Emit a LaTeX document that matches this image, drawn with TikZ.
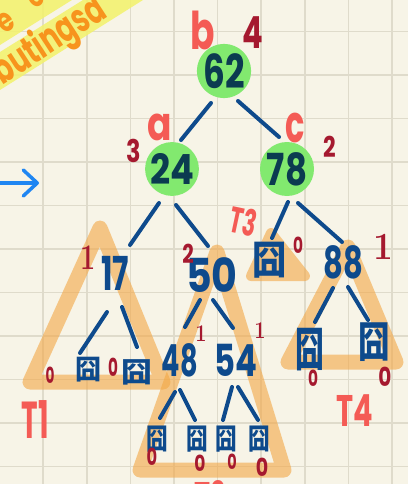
\documentclass[tikz,border=0pt]{standalone}
\usepackage{fontspec}
\newfontfamily\hand{Poppins}
\newfontfamily\cjk{Noto Sans CJK SC}
\usetikzlibrary{arrows.meta}
\definecolor{paper}{HTML}{F7F4E7}
\definecolor{gridc}{HTML}{DFDBCB}
\definecolor{hl}{HTML}{F3F26A}
\definecolor{orangeink}{HTML}{F7941D}
\definecolor{tri}{HTML}{F3A744}
\definecolor{nodegreen}{HTML}{82E96F}
\definecolor{ink}{HTML}{0E4A8C}
\definecolor{darkink}{HTML}{0B3B50}
\definecolor{salmon}{HTML}{F45B55}
\definecolor{wine}{HTML}{A5192F}
\definecolor{arrowblue}{HTML}{1F86F2}
\newcommand{\hw}[3]{\scalebox{#1}[1.3]{\hand\bfseries\fontsize{#2}{#2}\selectfont #3}}
\newcommand{\lmn}[3]{\scalebox{#1}[1.2]{\bfseries\fontsize{#2}{#2}\selectfont #3}}
\newcommand{\jiong}[3]{\scalebox{#1}[#2]{\cjk\bfseries\fontsize{#3}{#3}\selectfont 囧}}
\tikzset{
  circ/.style={circle, fill=nodegreen, inner sep=0pt, text=darkink},
  val/.style={inner sep=0pt, text=ink},
  leafnode/.style={inner sep=0pt, text=ink},
  edge/.style={draw=ink, line width=4pt, line cap=round},
  lbl/.style={inner sep=0pt, text=salmon},
  ht/.style={inner sep=0pt, text=wine},
  subtree/.style={draw=tri, line width=15pt, line join=round},
  gridline/.style={draw=gridc, line width=1.6pt},
}
\begin{document}
\begin{tikzpicture}[x=1pt,y=-1pt]
\useasboundingbox (0,0) rectangle (408,484);
\clip (0,0) rectangle (408,484);
\fill[paper] (0,0) rectangle (408,484);
% grid
\foreach \k in {1,...,9} {\draw[gridline] ({43.6*\k-0.5},0) -- ({43.6*\k-0.5},484);}
\foreach \k in {0,...,10} {\draw[gridline] (0,{31.5+43.5*\k}) -- (408,{31.5+43.5*\k});}
% highlight bands
\fill[hl, opacity=0.85] (0,0) -- (72,0) -- (0,45) -- cycle;
\fill[hl, opacity=0.85] (83,0) -- (143,0) -- (0,90) -- (0,52) -- cycle;
\node[inner sep=0pt, text=orangeink, rotate=33] (e1) at (6,22) {\scalebox{0.9}[1.2]{\hand\bfseries\fontsize{28}{28}\selectfont e}};
\node[inner sep=0pt, text=orangeink, rotate=33] (e2) at (36,-2) {\scalebox{0.9}[1.2]{\hand\bfseries\fontsize{26}{26}\selectfont o}};
\node[inner sep=0pt, text=orangeink, rotate=33] (bs) at (50,42) {\scalebox{0.85}[1.25]{\hand\bfseries\fontsize{32}{32}\selectfont butingsa}};
% subtree triangles
\begin{scope}[transparency group, opacity=0.6]
\draw[subtree] (100,228) -- (30,382) -- (163,382) -- cycle;
\end{scope}
\begin{scope}[transparency group, opacity=0.6]
\draw[subtree] (217,252) -- (140,470) -- (284,470) -- cycle;
\end{scope}
\begin{scope}[transparency group, opacity=0.6]
\filldraw[subtree, fill=tri, line width=10pt] (271,233) -- (251,276) -- (305,276) -- cycle;
\end{scope}
\begin{scope}[transparency group, opacity=0.6]
\draw[subtree] (348,247) -- (288,362) -- (396,362) -- cycle;
\end{scope}
% tree nodes
\node[circ, minimum size=52pt] (r) at (224,71) {\hw{0.95}{36}{62}};
\node[circ, minimum size=50pt] (a) at (172,169) {\hw{1.1}{32}{24}};
\node[circ, minimum size=54pt] (c) at (287,169) {\hw{1}{34}{78}};
\node[val] (n17) at (115,273) {\hw{0.85}{36}{17}};
\node[val] (n50) at (212,275) {\hw{1.1}{36}{50}};
\node[leafnode] (x3) at (270,260) {\jiong{0.95}{1.1}{36}};
\node[val] (n88) at (343,262) {\hw{0.9}{34}{88}};
\node[leafnode] (l1) at (88,370) {\jiong{1}{1.05}{26}};
\node[leafnode] (l2) at (137,372) {\jiong{1.1}{1}{28}};
\node[val] (n48) at (180,360) {\hw{0.8}{34}{48}};
\node[val] (n54) at (236,360) {\hw{0.95}{34}{54}};
\node[leafnode] (l3) at (157,439) {\jiong{0.9}{1.2}{24}};
\node[leafnode] (l4) at (197,439) {\jiong{0.9}{1.2}{24}};
\node[leafnode] (l5) at (226,439) {\jiong{0.9}{1.2}{24}};
\node[leafnode] (l6) at (259,439) {\jiong{0.9}{1.2}{24}};
\node[leafnode] (l7) at (310,350) {\jiong{0.8}{1.3}{36}};
\node[leafnode] (l8) at (374,342) {\jiong{0.85}{1.15}{37}};
% connectors
\draw[edge] ([shift={(-13,32)}]r.center) -- ([shift={(9,-29)}]a.center);
\draw[edge] ([shift={(14,30)}]r.center) -- ([shift={(-8,-32)}]c.center);
\draw[edge] ([shift={(-13,34)}]a.center) -- ([shift={(15,-28)}]n17.center);
\draw[edge] ([shift={(4,36)}]a.center) -- ([shift={(-4,-29)}]n50.center);
\draw[edge] ([shift={(1,33)}]c.center) -- ([shift={(2,-22)}]x3.center);
\draw[edge] ([shift={(11,34)}]c.center) -- ([shift={(-1,-20)}]n88.center);
\draw[edge] ([shift={(-8,39)}]n17.center) -- ([shift={(-8,-17)}]l1.center);
\draw[edge] ([shift={(7,34)}]n17.center) -- ([shift={(0,-25)}]l2.center);
\draw[edge] ([shift={(-12,25)}]n50.center) -- ([shift={(5,-33)}]n48.center);
\draw[edge] ([shift={(1,25)}]n50.center) -- ([shift={(-3,-32)}]n54.center);
\draw[edge] ([shift={(-5,32)}]n48.center) -- ([shift={(3,-21)}]l3.center);
\draw[edge] ([shift={(0,30)}]n48.center) -- ([shift={(-2,-19)}]l4.center);
\draw[edge] ([shift={(-4,27)}]n54.center) -- ([shift={(-3,-19)}]l5.center);
\draw[edge] ([shift={(2,27)}]n54.center) -- ([shift={(-1,-19)}]l6.center);
\draw[edge] ([shift={(-10,26)}]n88.center) -- ([shift={(5,-28)}]l7.center);
\draw[edge] ([shift={(5,25)}]n88.center) -- ([shift={(-6,-22)}]l8.center);
% letter labels
\node[lbl] (lb) at (203,30) {\hw{0.9}{40}{b}};
\node[lbl] (la) at (160,127) {\hw{1}{36}{a}};
\node[lbl] (lc) at (295,128) {\hw{0.8}{40}{c}};
\node[lbl, rotate=-12] (t3) at (243,221) {\hw{0.8}{28}{T3}};
\node[lbl] (t1) at (35,420) {\hw{0.7}{40}{T1}};
\node[lbl] (t4) at (355,411) {\hw{0.85}{34}{T4}};
\node[lbl] (t2) at (210,497) {\hw{0.8}{34}{T2}};
% heights
\node[ht] (h62) at (253,33) {\hw{0.9}{34}{4}};
\node[ht] (h24) at (134,151) {\hw{1}{24}{3}};
\node[ht] (h78) at (330,147) {\hw{1}{22}{2}};
\node[ht] (h17) at (88,258) {\lmn{0.9}{30}{1}};
\node[ht] (h50) at (188,254) {\hw{1}{20}{2}};
\node[ht] (hx3) at (298,245) {\hw{0.9}{17}{0}};
\node[ht] (h88) at (383,247) {\lmn{1.1}{32}{1}};
\node[ht] (h48) at (201,334) {\lmn{1}{20}{1}};
\node[ht] (h54) at (260,331) {\lmn{1}{20}{1}};
\node[ht] (hl1) at (50,375) {\hw{0.8}{17}{0}};
\node[ht] (hl2) at (113,367) {\hw{0.8}{19}{0}};
\node[ht] (hl7) at (313,378) {\hw{0.9}{17}{0}};
\node[ht] (hl8) at (385,377) {\hw{1}{20}{0}};
\node[ht] (hl3) at (152,457) {\hw{0.9}{18}{0}};
\node[ht] (hl4) at (200,463) {\hw{1}{17}{0}};
\node[ht] (hl5) at (232,462) {\hw{0.9}{16}{0}};
\node[ht] (hl6) at (262,467) {\hw{1}{19}{0}};
% blue arrow
\coordinate (arrS) at (-5,183);
\coordinate (arrE) at (39,183);
\draw[arrowblue, line width=3.5pt, line cap=round, -{Straight Barb[length=14pt, width=26pt, line cap=round, line join=round]}] (arrS) -- (arrE);
\end{tikzpicture}
\end{document}
